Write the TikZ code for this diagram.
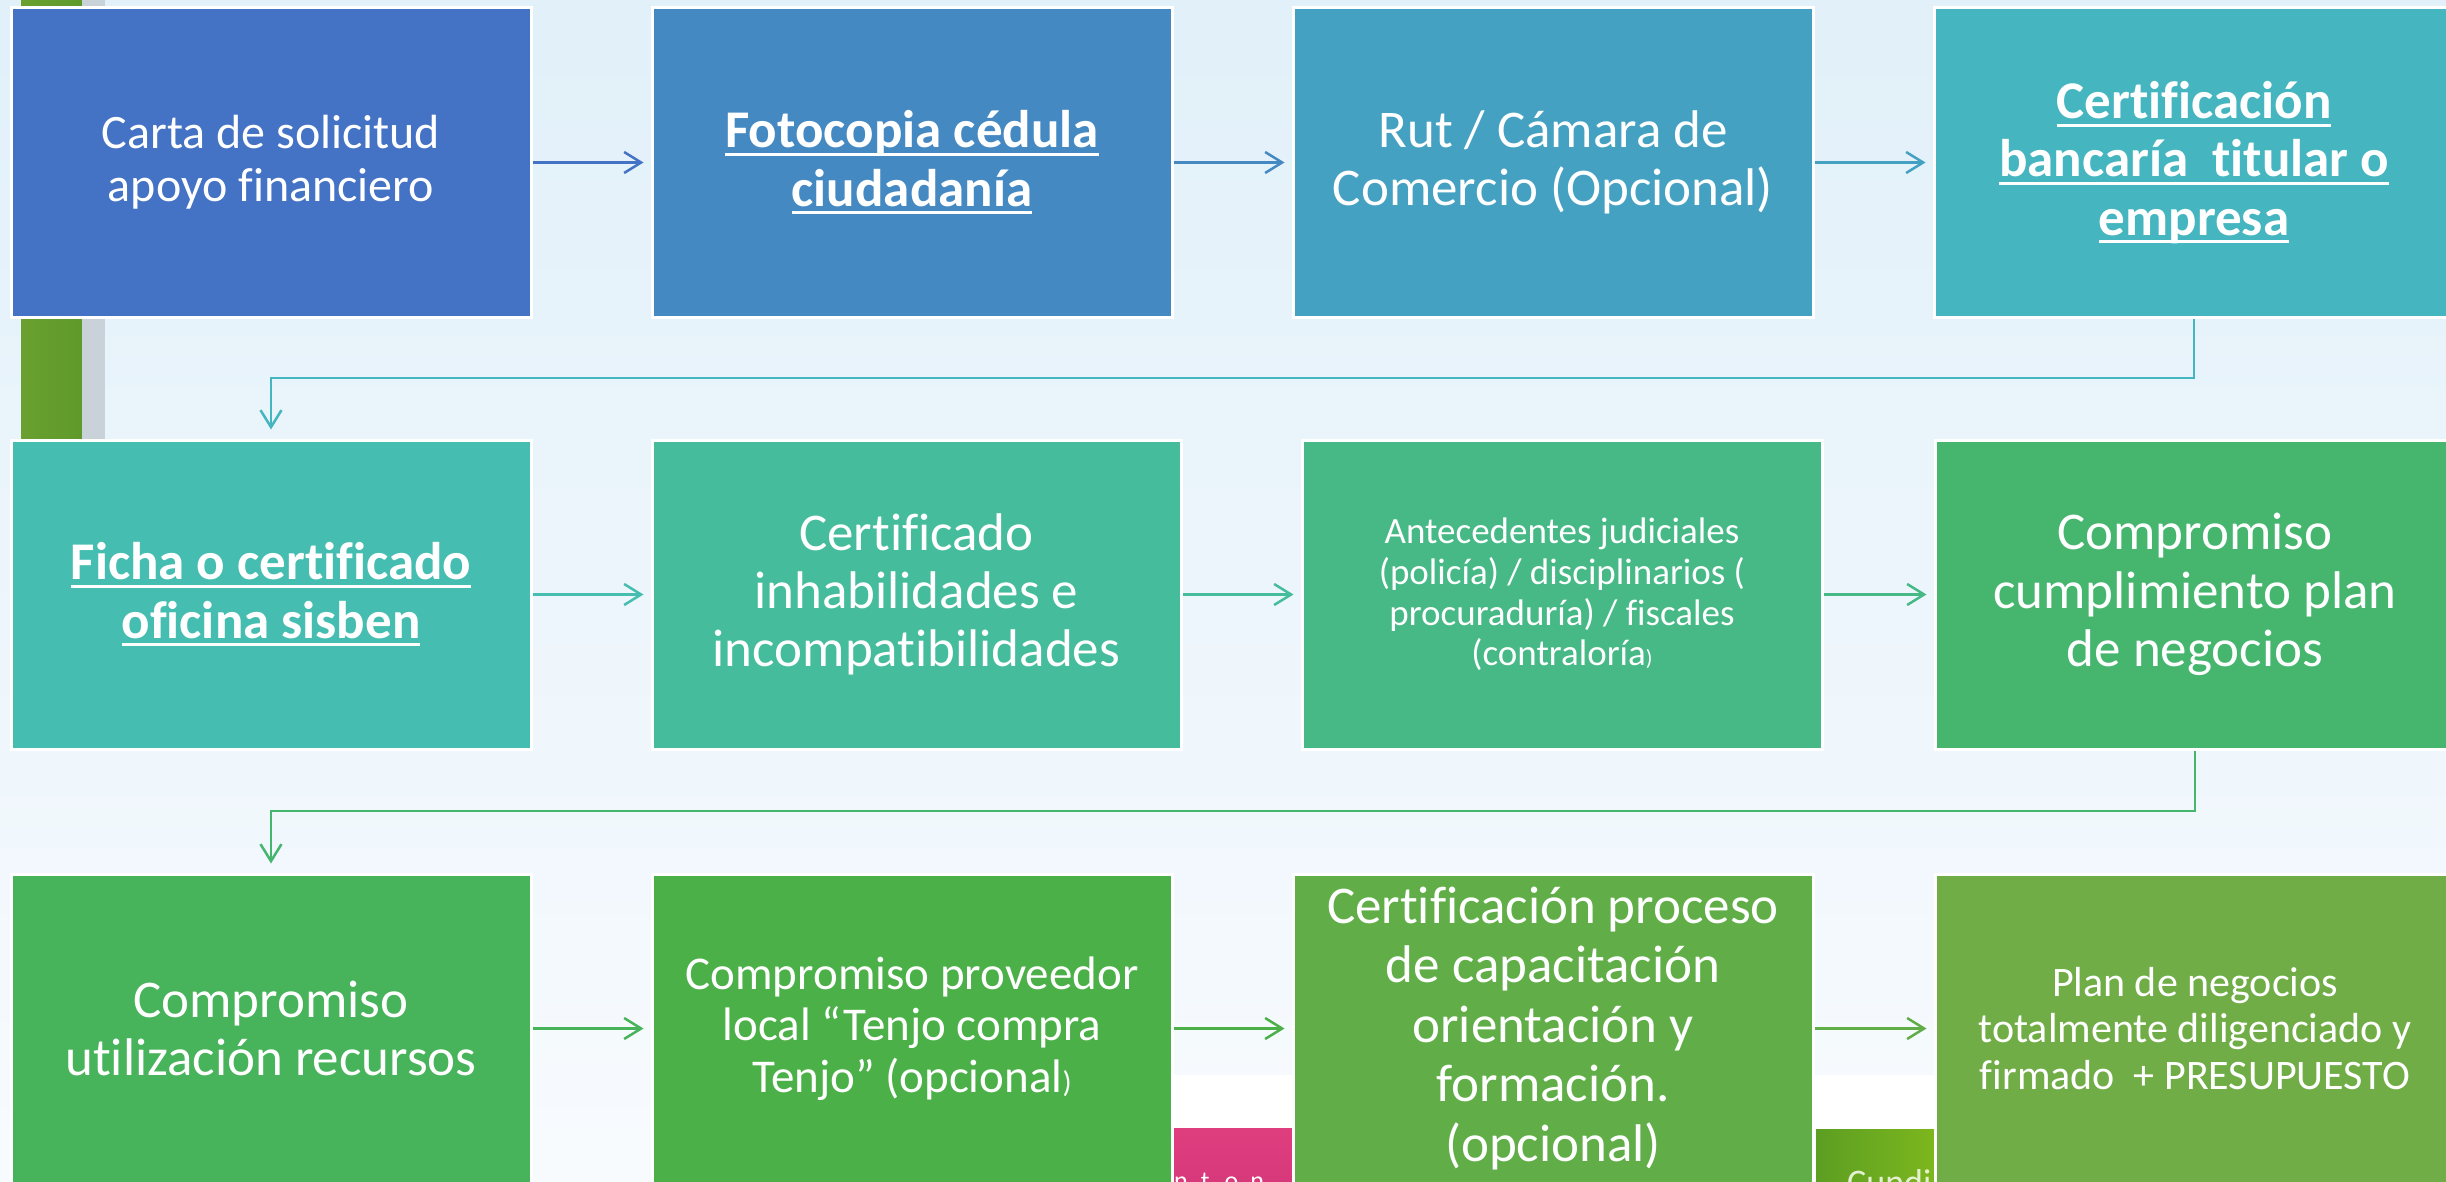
\documentclass[tikz,border=0pt]{standalone}
\usepackage{fontspec}
\setmainfont[Ligatures=NoCommon]{Carlito}
\usetikzlibrary{arrows.meta}
\definecolor{bgtop}{HTML}{E1F0F9}
\definecolor{bgbot}{HTML}{F8FBFE}
\definecolor{ca}{HTML}{4472C4}
\definecolor{cb}{HTML}{4589C3}
\definecolor{cc}{HTML}{44A1C1}
\definecolor{cd}{HTML}{45B5C0}
\definecolor{ce}{HTML}{45BEB1}
\definecolor{cf}{HTML}{45BC9B}
\definecolor{cg}{HTML}{46B986}
\definecolor{ch}{HTML}{46B66F}
\definecolor{ci}{HTML}{47B35A}
\definecolor{cj}{HTML}{4CB048}
\definecolor{ck}{HTML}{61AE48}
\definecolor{cl}{HTML}{70AD47}
\definecolor{barg}{HTML}{5E9A2A}
\definecolor{barl}{HTML}{6AA030}
\definecolor{greybar}{HTML}{C9D1D9}
\definecolor{pinka}{HTML}{DF3E7E}
\definecolor{pinkb}{HTML}{D6387A}
\definecolor{gra}{HTML}{5C9E22}
\definecolor{grb}{HTML}{7EB81D}
\definecolor{cunditxt}{HTML}{E4F0D0}
\newsavebox\ulbox
\newcommand\myul[1]{\sbox\ulbox{#1}\rlap{\rule[-8pt]{\wd\ulbox}{3pt}}\usebox\ulbox}
\newcommand\fsz[2]{\fontsize{#1pt}{#2pt}\selectfont}
\begin{document}
\begin{tikzpicture}[x=1pt,y=-1pt,
  box/.style={draw=white, line width=3pt, text=white, align=center,
    minimum width=520pt, minimum height=309pt, inner sep=0pt},
  arr/.style={line width=2.5pt,
    -{Straight Barb[length=17pt,width=21pt,line width=2.5pt]}, shorten >=7pt}]
\clip (0,0) rectangle (2446,1182);
% background
\shade[top color=bgtop, bottom color=bgbot] (0,0) rectangle (2446,1182);
% left decoration bars
\shade[left color=barl, right color=barg] (21,0) rectangle (82,470);
\fill[greybar] (82,0) rectangle (105,470);
% bottom decorations
\fill[white] (1172,1075) rectangle (1300,1128);
\shade[top color=pinka, bottom color=pinkb] (1174,1128) rectangle (1300,1190);
\node[anchor=base west, inner sep=0pt, text=white, font=\fsz{26}{28}] (pinktxt) at (1174,1189) {n\kern13pt t\kern15pt o\kern12pt n};
\fill[white] (1814,1075) rectangle (1940,1129);
\shade[left color=gra, right color=grb] (1816,1129) rectangle (1940,1190);
\node[anchor=base west, inner sep=0pt, text=cunditxt, font=\fsz{36}{38}] (cunditxt) at (1847,1194) {Cundi};
% row 1
\node[box, fill=ca, font=\fsz{48}{53}] (a1) at (271,162.5) {Carta de solicitud\\apoyo financiero};
\node[box, fill=cb, font=\bfseries\fsz{53}{58.3}] (a2) at (912,162.5) {\myul{Fotocopia cédula}\\\myul{ciudadanía}};
\node[box, fill=cc, font=\fsz{53}{58.3}] (a3) at (1553,162.5) {Rut / Cámara de\\Comercio (Opcional)};
\node[box, fill=cd, font=\bfseries\fsz{53}{58.3}] (a4) at (2194,162.5) {\myul{Certificación}\\\myul{bancaría\ \ titular o}\\\myul{empresa}};
% row 2
\node[box, fill=ce, font=\bfseries\fsz{53}{58.3}] (b1) at (271,594.5) {\myul{Ficha o certificado}\\\myul{oficina sisben}};
\node[box, fill=cf, font=\fsz{53}{58.3}, minimum width=529pt] (b2) at (916.5,594.5) {Certificado\\inhabilidades e\\incompatibilidades};
\node[box, fill=cg, font=\fsz{37}{40.7}] (b3) at (1562,594.5) {Antecedentes judiciales\\(policía) / disciplinarios (\\procuraduría) / fiscales\\(contraloría{\fsz{22}{22})}};
\node[box, fill=ch, font=\fsz{53}{58.3}] (b4) at (2195,594.5) {Compromiso\\cumplimiento plan\\de negocios};
% row 3
\node[box, fill=ci, font=\fsz{53}{58.3}] (c1) at (271,1028.5) {Compromiso\\utilización recursos};
\node[box, fill=cj, font=\fsz{47}{51.7}] (c2) at (912,1028.5) {Compromiso proveedor\\local “Tenjo compra\\Tenjo” (opcional{\fsz{30}{30})}};
\node[box, fill=ck, font=\fsz{53}{59.5}] (c3) at (1553,1028.5) {Certificación proceso\\de capacitación\\orientación y\\formación.\\(opcional)};
\node[box, fill=cl, font=\fsz{42}{46.5}] (c4) at (2195,1028.5) {Plan de negocios\\totalmente diligenciado y\\firmado\ \ + PRESUPUESTO};
% connectors
\coordinate (k1) at (0,378);
\coordinate (k2) at (0,811);
\draw[arr, ca] (a1.east) -- (a2.west);
\draw[arr, cb] (a2.east) -- (a3.west);
\draw[arr, cc] (a3.east) -- (a4.west);
\draw[arr, cd, shorten >=9pt] (a4.south) -- (a4.south |- k1) -| (b1.north);
\draw[arr, ce] (b1.east) -- (b2.west);
\draw[arr, cf] (b2.east) -- (b3.west);
\draw[arr, cg] (b3.east) -- (b4.west);
\draw[arr, ch, shorten >=9pt] (b4.south) -- (b4.south |- k2) -| (c1.north);
\draw[arr, ci] (c1.east) -- (c2.west);
\draw[arr, cj] (c2.east) -- (c3.west);
\draw[arr, ck] (c3.east) -- (c4.west);
\end{tikzpicture}
\end{document}
